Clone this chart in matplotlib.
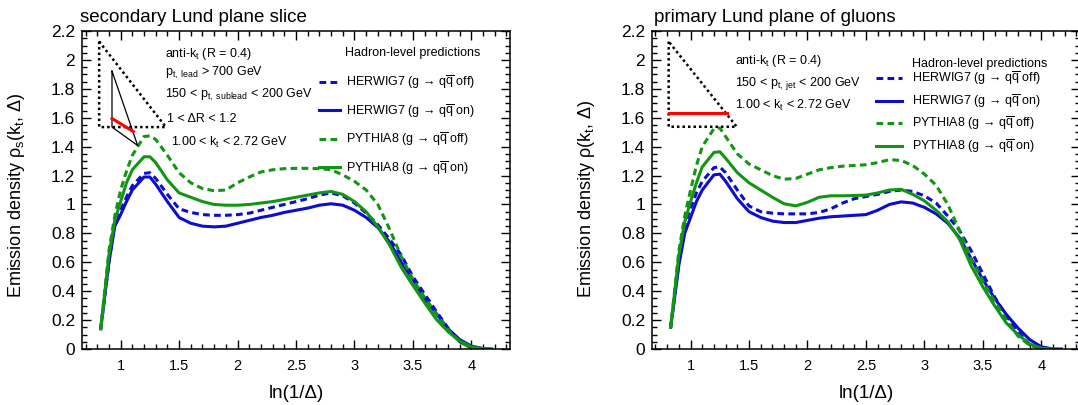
import numpy as np
import matplotlib
matplotlib.use("Agg")
import matplotlib.pyplot as plt
from matplotlib.legend import Legend
from matplotlib.ticker import MultipleLocator, FuncFormatter

plt.rcParams['font.family'] = ['Liberation Sans', 'DejaVu Sans']
plt.rcParams['mathtext.fontset'] = 'custom'
plt.rcParams['mathtext.rm'] = 'Liberation Sans'
plt.rcParams['mathtext.it'] = 'Liberation Sans:italic'
plt.rcParams['mathtext.bf'] = 'Liberation Sans:bold'

# ln(1/Delta) sampling points
ln_delta = [0.83, 0.9, 0.95, 1.0, 1.05, 1.1, 1.2, 1.25, 1.3, 1.4, 1.5, 1.6, 1.7,
            1.8, 1.9, 2.0, 2.1, 2.2, 2.3, 2.4, 2.5, 2.6, 2.7, 2.8, 2.9, 3.0,
            3.1, 3.2, 3.3, 3.4, 3.5, 3.6, 3.7, 3.8, 3.9, 4.0, 4.1, 4.17]
nan = np.nan

# secondary Lund plane slice
sec_herwig_off = [0.14, 0.6, 0.87, 0.96, 1.05, 1.13, 1.215, 1.22, 1.18, 1.07, 0.97,
                  0.945, 0.93, 0.925, 0.925, 0.93, 0.94, 0.96, 0.98, 1.0, 1.02, 1.04,
                  1.065, 1.08, 1.06, 1.01, 0.94, 0.86, 0.76, 0.65, 0.5, 0.38, 0.26,
                  0.145, 0.05, 0.008, nan, nan]
sec_herwig_on = [0.14, 0.6, 0.85, 0.93, 1.02, 1.1, 1.19, 1.19, 1.14, 1.02, 0.91,
                 0.87, 0.85, 0.845, 0.85, 0.87, 0.89, 0.91, 0.925, 0.945, 0.96, 0.975,
                 0.995, 1.005, 0.995, 0.96, 0.91, 0.84, 0.74, 0.6, 0.48, 0.35, 0.245,
                 0.14, 0.065, 0.02, 0.003, 0.0]
sec_pythia_off = [0.14, 0.68, 0.92, 1.1, 1.23, 1.34, 1.47, 1.475, 1.45, 1.34, 1.22,
                  1.15, 1.11, 1.095, 1.1, 1.15, 1.19, 1.225, 1.24, 1.248, 1.25, 1.25,
                  1.248, 1.24, 1.205, 1.16, 1.1, 1.0, 0.83, 0.64, 0.48, 0.355, 0.24,
                  0.135, 0.05, 0.005, nan, nan]
sec_pythia_on = [0.14, 0.65, 0.89, 1.02, 1.15, 1.24, 1.33, 1.33, 1.29, 1.17, 1.08,
                 1.05, 1.02, 1.0, 0.995, 0.995, 1.0, 1.01, 1.02, 1.035, 1.05, 1.065,
                 1.08, 1.09, 1.07, 1.02, 0.95, 0.845, 0.72, 0.565, 0.44, 0.32, 0.205,
                 0.12, 0.055, 0.015, 0.002, 0.0]

# primary Lund plane of gluons
pri_herwig_off = [0.15, 0.6, 0.86, 0.97, 1.08, 1.16, 1.255, 1.26, 1.22, 1.1, 0.99,
                  0.95, 0.94, 0.935, 0.935, 0.935, 0.945, 0.97, 1.01, 1.04, 1.055, 1.07,
                  1.09, 1.1, 1.09, 1.06, 1.01, 0.92, 0.82, 0.68, 0.52, 0.36, 0.23,
                  0.12, 0.03, 0.0, nan, nan]
pri_herwig_on = [0.15, 0.58, 0.8, 0.91, 1.02, 1.1, 1.205, 1.21, 1.16, 1.04, 0.95,
                 0.91, 0.885, 0.875, 0.875, 0.89, 0.905, 0.915, 0.92, 0.925, 0.93, 0.96,
                 1.0, 1.018, 1.01, 0.98, 0.935, 0.87, 0.77, 0.625, 0.48, 0.35, 0.24,
                 0.145, 0.065, 0.015, 0.0, 0.0]
pri_pythia_off = [0.15, 0.68, 0.92, 1.1, 1.27, 1.4, 1.525, 1.53, 1.47, 1.35, 1.28,
                  1.24, 1.2, 1.175, 1.18, 1.21, 1.24, 1.255, 1.265, 1.27, 1.275, 1.29,
                  1.31, 1.305, 1.27, 1.21, 1.133, 1.0, 0.82, 0.62, 0.47, 0.33, 0.2,
                  0.09, 0.025, 0.002, nan, nan]
pri_pythia_on = [0.15, 0.65, 0.88, 1.02, 1.15, 1.26, 1.36, 1.365, 1.32, 1.22, 1.15,
                 1.1, 1.05, 1.005, 0.99, 1.015, 1.05, 1.06, 1.06, 1.062, 1.065, 1.08,
                 1.1, 1.105, 1.07, 1.025, 0.96, 0.88, 0.76, 0.575, 0.43, 0.3, 0.18,
                 0.1, 0.035, 0.005, 0.0, nan]

labels = [r'HERWIG7 (g → q$\overline{\mathrm{q}}$ off)',
          r'HERWIG7 (g → q$\overline{\mathrm{q}}$ on)',
          r'PYTHIA8 (g → q$\overline{\mathrm{q}}$ off)',
          r'PYTHIA8 (g → q$\overline{\mathrm{q}}$ on)']

blue = '#0c0cd2'
green = '#129612'
styles = [(blue, (0, (2.2, 1.4))), (blue, '-'), (green, (0, (2.2, 1.4))), (green, '-')]

# Lund-plane sketches (axes fraction)
sec_outline = [(0.040, 0.967), (0.040, 0.698), (0.196, 0.698), (0.040, 0.967)]
sec_inner = [(0.070, 0.874), (0.070, 0.698), (0.130, 0.640), (0.070, 0.874)]
sec_red = [(0.070, 0.725), (0.120, 0.684)]
pri_outline = [(0.039, 0.967), (0.039, 0.699), (0.198, 0.699), (0.039, 0.967)]
pri_red = [(0.039, 0.742), (0.175, 0.742)]

# legend rows (axes fraction of row centre)
sec_legend_rows = [0.8371, 0.7484, 0.6582, 0.5692]
pri_legend_rows = [0.8506, 0.7786, 0.7079, 0.6358]

fig = plt.figure(figsize=(10.78, 4.05), dpi=100)
ax1 = fig.add_axes([0.0761, 0.1383, 0.397, 0.785])
ax2 = fig.add_axes([0.6048, 0.1383, 0.397, 0.785])
fs = 9


def style_axes(ax):
    ax.set_xlim(0.67, 4.33)
    ax.set_ylim(0, 2.2)
    ax.xaxis.set_major_locator(MultipleLocator(0.5))
    ax.xaxis.set_minor_locator(MultipleLocator(0.1))
    ax.yaxis.set_major_locator(MultipleLocator(0.2))
    ax.yaxis.set_minor_locator(MultipleLocator(0.05))
    fmt = FuncFormatter(lambda v, p: '%g' % round(v, 2))
    ax.xaxis.set_major_formatter(fmt)
    ax.yaxis.set_major_formatter(fmt)
    ax.set_xticks([1, 1.5, 2, 2.5, 3, 3.5, 4])
    ax.tick_params(which='both', direction='in', top=True, right=True, width=1.0)
    ax.tick_params(which='major', length=6.5)
    ax.tick_params(which='minor', length=3.3)
    ax.tick_params(axis='x', labelsize=10.5, pad=7)
    ax.tick_params(axis='y', labelsize=12.5, pad=5)
    for s in ax.spines.values():
        s.set_linewidth(1.1)
    ax.set_xlabel(r'ln(1/Δ)', fontsize=13.5)
    ax.xaxis.set_label_coords(0.5, -0.112)


def draw(ax, series):
    lines = []
    for ys, (c, ls), lab in zip(series, styles, labels):
        ln, = ax.plot(ln_delta, ys, color=c, linestyle=ls, lw=2.2, label=lab)
        lines.append(ln)
    return lines


def legend_rows(ax, handles, x, rows, hlen, hpad):
    # one single-entry legend per row, so the row pitch matches the original
    for h, y in zip(handles, rows):
        leg = Legend(ax, [h], [h.get_label()], loc='center left', bbox_to_anchor=(x, y),
                     frameon=False, fontsize=fs, borderpad=0, borderaxespad=0,
                     handlelength=hlen, handletextpad=hpad)
        ax.add_artist(leg)


def sketch(ax, pts, **kw):
    xs, ys = zip(*pts)
    ax.plot(xs, ys, transform=ax.transAxes, clip_on=False, **kw)


# left panel
style_axes(ax1)
h1 = draw(ax1, [sec_herwig_off, sec_herwig_on, sec_pythia_off, sec_pythia_on])
ax1.set_ylabel(r'Emission density ρ$_{\mathrm{s}}$(k$_{\mathrm{t}}$, Δ)', fontsize=13, loc='bottom')
ax1.yaxis.set_label_coords(-0.1285, 0.16)
ax1.text(-0.005, 1.03, 'secondary Lund plane slice', transform=ax1.transAxes,
         fontsize=13.5, ha='left', va='baseline')
sketch(ax1, sec_outline, color='black', lw=1.8, linestyle=(0, (1, 1.2)))
sketch(ax1, sec_inner, color='black', lw=0.9)
sketch(ax1, sec_red, color='red', lw=2.2)
ax1.text(0.1935, 0.9277, r'anti-k$_{\mathrm{t}}$ (R = 0.4)', transform=ax1.transAxes, fontsize=fs, va='center')
ax1.text(0.1935, 0.8667, r'p$_{\mathrm{t,\ lead}}$ > 700 GeV', transform=ax1.transAxes, fontsize=fs, va='center')
ax1.text(0.1935, 0.7994, r'150 < p$_{\mathrm{t,\ sublead}}$ < 200 GeV', transform=ax1.transAxes, fontsize=fs, va='center')
ax1.text(0.1986, 0.7233, r'1 < ΔR < 1.2', transform=ax1.transAxes, fontsize=fs, va='center')
ax1.text(0.208, 0.6497, r'1.00 < k$_{\mathrm{t}}$ < 2.72 GeV', transform=ax1.transAxes, fontsize=fs, va='center')
ax1.text(0.6145, 0.9314, 'Hadron-level predictions', transform=ax1.transAxes, fontsize=fs, va='center')
legend_rows(ax1, h1, 0.554, sec_legend_rows, 1.7, 0.45)

# right panel
style_axes(ax2)
h2 = draw(ax2, [pri_herwig_off, pri_herwig_on, pri_pythia_off, pri_pythia_on])
ax2.set_ylabel(r'Emission density ρ(k$_{\mathrm{t}}$, Δ)', fontsize=13, loc='bottom')
ax2.yaxis.set_label_coords(-0.1285, 0.16)
ax2.text(0.005, 1.03, 'primary Lund plane of gluons', transform=ax2.transAxes,
         fontsize=13.5, ha='left', va='baseline')
sketch(ax2, pri_outline, color='black', lw=1.8, linestyle=(0, (1, 1.2)))
sketch(ax2, pri_red, color='red', lw=2.2)
ax2.text(0.193, 0.9044, r'anti-k$_{\mathrm{t}}$ (R = 0.4)', transform=ax2.transAxes, fontsize=fs, va='center')
ax2.text(0.193, 0.8346, r'150 < p$_{\mathrm{t,\ jet}}$ < 200 GeV', transform=ax2.transAxes, fontsize=fs, va='center')
ax2.text(0.193, 0.7648, r'1.00 < k$_{\mathrm{t}}$ < 2.72 GeV', transform=ax2.transAxes, fontsize=fs, va='center')
ax2.text(0.6075, 0.8962, 'Hadron-level predictions', transform=ax2.transAxes, fontsize=fs, va='center')
legend_rows(ax2, h2, 0.523, pri_legend_rows, 2.1, 0.8)

fig.savefig('out.png', dpi=100)
